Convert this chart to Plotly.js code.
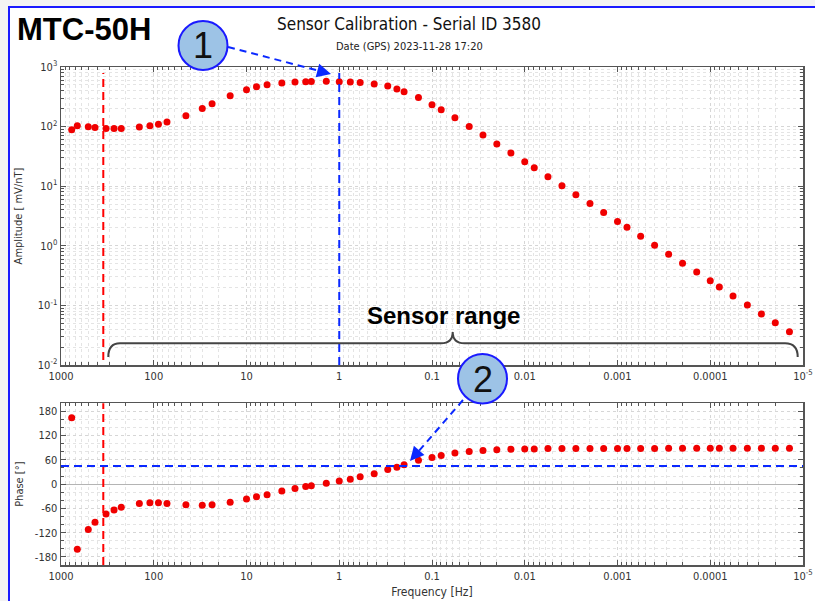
<!DOCTYPE html>
<html><head><meta charset="utf-8">
<script src="https://cdn.plot.ly/plotly-3.0.1.min.js"></script>
<style>html,body{margin:0;padding:0;background:#f3f3f3;} #chart{width:815px;height:601px;}</style>
</head><body><div id="chart"></div>
<script>
// ---- data ----
const freqHz = [767, 667, 508, 430, 327, 268, 224, 143, 110, 89,
  72, 45, 30, 23.5, 15, 10, 7.8, 6.0, 4.16, 3.0,
  2.3, 2.0, 1.38, 1.0, 0.76, 0.595, 0.42, 0.30, 0.239, 0.20,
  0.14, 0.10, 0.0796, 0.0566, 0.0397, 0.0282, 0.020, 0.0141, 0.010, 0.0079,
  0.00562, 0.00397, 0.00281, 0.00198, 0.00141, 0.0010, 0.00079, 0.000563, 0.000398, 0.000281,
  0.000199, 0.00014, 0.0001, 0.0000798, 0.0000568, 0.0000398, 0.0000281, 0.0000199, 0.000014];
const amplitude = [88.5, 103, 99, 97, 93, 93, 93, 98, 103, 110,
  119, 152, 202, 242, 330, 416, 467, 505, 541, 562,
  566, 573, 578, 566, 560, 549, 518, 480, 427, 385,
  309, 233, 192, 141, 100.5, 72.1, 50.9, 36.0, 25.7, 20.4,
  14.4, 10.2, 7.22, 5.12, 3.61, 2.55, 2.05, 1.45, 1.02, 0.723,
  0.511, 0.365, 0.258, 0.204, 0.144, 0.102, 0.0719, 0.0513, 0.0362];
const phase = [164, -161, -112, -94, -74, -64, -57, -48, -46, -46,
  -48, -51, -52, -51, -45, -37, -31, -26, -17, -11,
  -6, -4, 2, 8, 12, 18, 26, 36, 42, 48,
  59, 66, 71, 77, 81, 83, 85, 86.5, 87, 87,
  88, 88, 88, 88, 88, 88, 88, 88, 88, 89,
  89, 89, 89, 89, 89, 89, 89, 89, 89];
const freqTickVals = [1000, 100, 10, 1, 0.1, 0.01, 0.001, 0.0001, 0.00001];
const freqTickText = ['1000', '100', '10', '1', '0.1', '0.01', '0.001', '0.0001', '10<sup>-5</sup>'];
const ampTickVals = [1000, 100, 10, 1, 0.1, 0.01];
const ampTickText = ['10<sup>3</sup>', '10<sup>2</sup>', '10<sup>1</sup>', '10<sup>0</sup>', '10<sup>-1</sup>', '10<sup>-2</sup>'];
const phaseTickVals = [-180, -120, -60, 0, 60, 120, 180];
const phaseTickText = ['-180', '-120', '-60', '0', '60', '120', '180'];
const upperLimitHz = 350;   // red dashed line
const cornerHz = 1;         // blue dashed line (1)
const phaseMark = 45;       // blue dashed line (2)

// ---- layout helpers (pixel -> paper) ----
const X0 = 61, XW = 742, YB = 565, YH = 498;
const px = v => (v - X0) / XW;
const py = v => (YB - v) / YH;

const FONT = 'DejaVu Sans Condensed, DejaVu Sans, sans-serif';
const AX = '#555';
const GRID = '#d6d6d6', GRIDMINOR = '#e4e4e4';
const tickFont = {family: FONT, size: 11, color: '#333'};

function xAxis(anchor, withTitle) {
  const a = {
    type: 'log', range: [3, -5], autorange: false, anchor: anchor, domain: [0, 1],
    tickmode: 'array', tickvals: freqTickVals, ticktext: freqTickText,
    ticks: 'inside', ticklen: 5, tickcolor: AX, tickwidth: 1,
    showline: true, linecolor: AX, linewidth: 1.5, mirror: 'allticks',
    showgrid: true, gridcolor: GRID, griddash: 'dot', gridwidth: 1,
    zeroline: false, tickfont: tickFont,
    minor: {dtick: 'D1', ticks: 'inside', ticklen: 3, tickcolor: AX, showgrid: true, gridcolor: GRIDMINOR, griddash: 'dot'}
  };
  if (withTitle) a.title = {text: 'Frequency [Hz]', font: {family: FONT, size: 12, color: '#333'}, standoff: 6};
  return a;
}

const traces = [
  {x: freqHz, y: amplitude, xaxis: 'x', yaxis: 'y', type: 'scatter', mode: 'markers',
   marker: {color: '#f00000', size: 7}, showlegend: false, hoverinfo: 'x+y'},
  {x: freqHz, y: phase, xaxis: 'x2', yaxis: 'y2', type: 'scatter', mode: 'markers',
   marker: {color: '#f00000', size: 7}, showlegend: false, hoverinfo: 'x+y'}
];

const blue = '#0a28ff';
const layout = {
  width: 815, height: 601,
  margin: {l: 61, r: 12, t: 67, b: 36},
  paper_bgcolor: '#f3f3f3', plot_bgcolor: '#ffffff',
  showlegend: false,
  title: {text: 'Sensor Calibration - Serial ID 3580', font: {family: FONT, size: 17, color: '#111'},
          xref: 'container', x: 409 / 815, xanchor: 'center', yref: 'container', y: 1 - 24 / 601, yanchor: 'middle'},
  xaxis: xAxis('y', false),
  xaxis2: xAxis('y2', true),
  yaxis: {
    type: 'log', range: [-2, 3], autorange: false, domain: [py(365), 1], anchor: 'x',
    tickmode: 'array', tickvals: ampTickVals, ticktext: ampTickText,
    ticks: 'inside', ticklen: 5, tickcolor: AX, showline: true, linecolor: AX, linewidth: 1.5, mirror: 'allticks',
    showgrid: true, gridcolor: GRID, griddash: 'dot', zeroline: false, tickfont: tickFont,
    minor: {dtick: 'D1', ticks: 'inside', ticklen: 3, tickcolor: AX, showgrid: true, gridcolor: GRIDMINOR, griddash: 'dot'},
    title: {text: 'Amplitude [ mV/nT]', font: {family: FONT, size: 11, color: '#333'}, standoff: 13}
  },
  yaxis2: {
    range: [-200, 200], autorange: false, domain: [0, py(403.3)], anchor: 'x2',
    tickmode: 'array', tickvals: phaseTickVals, ticktext: phaseTickText,
    ticks: 'inside', ticklen: 5, tickcolor: AX, showline: true, linecolor: AX, linewidth: 1.5, mirror: 'allticks',
    showgrid: true, gridcolor: GRID, griddash: 'dot',
    zeroline: true, zerolinecolor: '#b4b4b4', zerolinewidth: 1, tickfont: tickFont,
    minor: {dtick: 20, ticks: 'inside', ticklen: 3, tickcolor: AX, showgrid: true, gridcolor: GRIDMINOR, griddash: 'dot'},
    title: {text: 'Phase [°]', font: {family: FONT, size: 11, color: '#333'}, standoff: 9}
  },
  shapes: [
    // page frame
    {type: 'rect', xref: 'paper', yref: 'paper', x0: px(9), x1: px(840), y0: py(640), y1: py(7),
     fillcolor: '#ffffff', line: {color: '#1a1aff', width: 2}, layer: 'below'},
    // red dashed limit lines
    {type: 'line', xref: 'x', yref: 'y domain', x0: upperLimitHz, x1: upperLimitHz, y0: 0.017, y1: 0.98,
     line: {color: '#ff0000', width: 2, dash: '8px,5px'}},
    {type: 'line', xref: 'x2', yref: 'y2 domain', x0: upperLimitHz, x1: upperLimitHz, y0: 0, y1: 1,
     line: {color: '#ff0000', width: 2, dash: '8px,5px'}},
    // blue dashed markers
    {type: 'line', xref: 'x', yref: 'y domain', x0: cornerHz, x1: cornerHz, y0: 0, y1: 0.98,
     line: {color: blue, width: 2, dash: '8px,5px'}},
    {type: 'line', xref: 'x2 domain', yref: 'y2', x0: 0, x1: 1, y0: phaseMark, y1: phaseMark,
     line: {color: blue, width: 2, dash: '8px,5px'}},
    // sensor range brace
    {type: 'path', xref: 'paper', yref: 'paper',
     path: `M ${px(108.3)} ${py(357)} Q ${px(108.3)} ${py(343.3)} ${px(120)} ${py(343.3)} L ${px(441)} ${py(343.3)} ` +
           `Q ${px(452.7)} ${py(343.3)} ${px(452.7)} ${py(332)} Q ${px(452.7)} ${py(343.3)} ${px(464.5)} ${py(343.3)} ` +
           `L ${px(785)} ${py(343.3)} Q ${px(797.7)} ${py(343.3)} ${px(797.7)} ${py(357)}`,
     line: {color: '#444', width: 2}},
    // dashed callout arrows
    {type: 'line', xref: 'paper', yref: 'paper', x0: px(228), y0: py(47), x1: px(320), y1: py(71),
     line: {color: blue, width: 2, dash: '7px,5px'}},
    {type: 'line', xref: 'paper', yref: 'paper', x0: px(463), y0: py(400), x1: px(418), y1: py(452),
     line: {color: blue, width: 2, dash: '7px,5px'}},
    // callout circles
    {type: 'circle', xref: 'paper', yref: 'paper', x0: px(178.5), x1: px(227.5), y0: py(70), y1: py(21),
     fillcolor: '#9dc3e6', line: {color: '#1a1aff', width: 2}},
    {type: 'circle', xref: 'paper', yref: 'paper', x0: px(458), x1: px(507), y0: py(403.5), y1: py(354),
     fillcolor: '#9dc3e6', line: {color: '#1a1aff', width: 2}}
  ],
  annotations: [
    {text: '<b>MTC-50H</b>', xref: 'paper', yref: 'paper', x: px(15), y: py(30), xanchor: 'left', yanchor: 'middle',
     showarrow: false, font: {family: 'Liberation Sans, Arial, sans-serif', size: 31, color: '#000'}},
    {text: 'Date (GPS) 2023-11-28 17:20', xref: 'paper', yref: 'paper', x: px(409), y: py(47), xanchor: 'center', yanchor: 'middle',
     showarrow: false, font: {family: FONT, size: 11, color: '#222'}},
    {text: '<b>Sensor range</b>', xref: 'paper', yref: 'paper', x: px(444), y: py(315), xanchor: 'center', yanchor: 'middle',
     showarrow: false, font: {family: 'Liberation Sans, Arial, sans-serif', size: 24, color: '#000'}},
    {text: '1', xref: 'paper', yref: 'paper', x: px(203), y: py(46), xanchor: 'center', yanchor: 'middle',
     showarrow: false, font: {family: 'Liberation Sans, Arial, sans-serif', size: 36, color: '#111'}},
    {text: '2', xref: 'paper', yref: 'paper', x: px(482.5), y: py(379.5), xanchor: 'center', yanchor: 'middle',
     showarrow: false, font: {family: 'Liberation Sans, Arial, sans-serif', size: 36, color: '#111'}},
    // arrow heads
    {text: '', xref: 'paper', yref: 'paper', x: px(331), y: py(74), showarrow: true, arrowhead: 2, arrowsize: 1.4,
     arrowwidth: 2, arrowcolor: blue, ax: -13.5, ay: -3.5, standoff: 0},
    {text: '', xref: 'paper', yref: 'paper', x: px(410), y: py(461), showarrow: true, arrowhead: 2, arrowsize: 1.4,
     arrowwidth: 2, arrowcolor: blue, ax: 9.2, ay: -10.6, standoff: 0}
  ]
};

Plotly.newPlot('chart', traces, layout, {staticPlot: true, displayModeBar: false});
</script>
</body></html>
